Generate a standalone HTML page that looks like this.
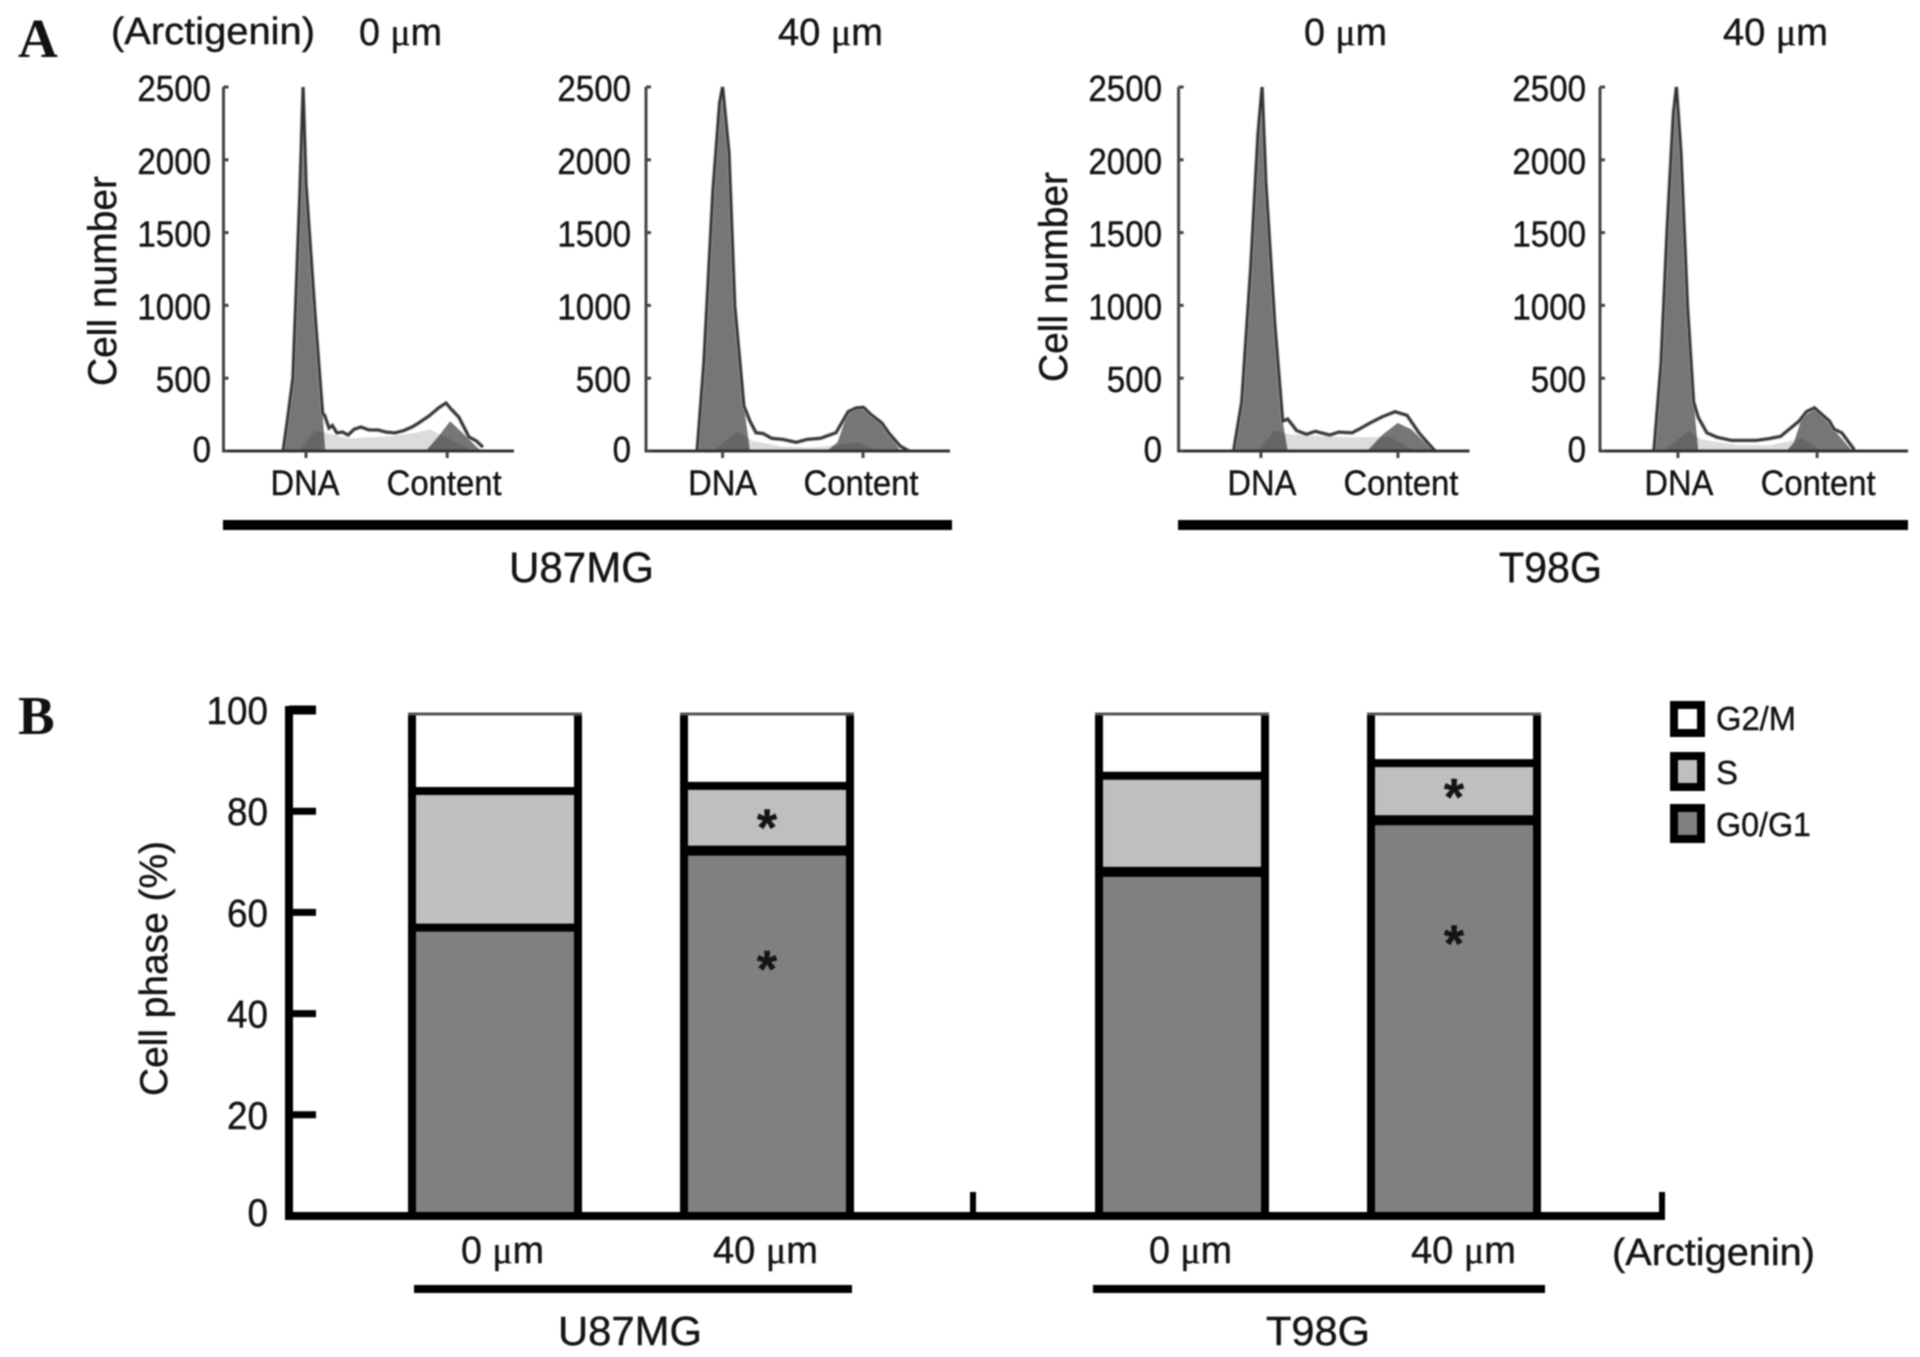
<!DOCTYPE html>
<html lang="en">
<head>
<meta charset="utf-8">
<title>Arctigenin cell cycle figure</title>
<style>
html,body{margin:0;padding:0;background:#fff;width:1920px;height:1357px;overflow:hidden}
svg{display:block;filter:blur(0.7px)}
text{font-family:"Liberation Sans",sans-serif;fill:#141414;stroke:#141414;stroke-width:.4px}
.serif{font-family:"Liberation Serif",serif}
.panel-letter{font-family:"Liberation Serif",serif;font-weight:bold;font-size:55px;fill:#111;stroke:none}
</style>
</head>
<body>
<svg id="figure" xmlns="http://www.w3.org/2000/svg" width="1920" height="1357" viewBox="0 0 1920 1357">
  <rect x="0" y="0" width="1920" height="1357" fill="#fff"/>
  <text class="panel-letter" x="18" y="57">A</text>
  <text class="panel-letter" x="18" y="734">B</text>

  <text x="111" y="44" font-size="38" textLength="204" lengthAdjust="spacingAndGlyphs">(Arctigenin)</text>
  <text x="359" y="45" font-size="38" textLength="83" lengthAdjust="spacingAndGlyphs">0 <tspan class="serif">μ</tspan>m</text>
  <text x="778" y="45" font-size="38" textLength="105" lengthAdjust="spacingAndGlyphs">40 <tspan class="serif">μ</tspan>m</text>
  <text x="1304" y="45" font-size="38" textLength="83" lengthAdjust="spacingAndGlyphs">0 <tspan class="serif">μ</tspan>m</text>
  <text x="1723" y="45" font-size="38" textLength="105" lengthAdjust="spacingAndGlyphs">40 <tspan class="serif">μ</tspan>m</text>

  <text transform="translate(116 386) rotate(-90)" font-size="40" textLength="210" lengthAdjust="spacingAndGlyphs">Cell number</text>
  <text transform="translate(1067 382) rotate(-90)" font-size="40" textLength="210" lengthAdjust="spacingAndGlyphs">Cell number</text>

  <rect x="223" y="520" width="729" height="10" fill="#000"/>
  <rect x="1178" y="520" width="730" height="10" fill="#000"/>
  <text x="509" y="582" font-size="43" textLength="145" lengthAdjust="spacingAndGlyphs">U87MG</text>
  <text x="1499" y="582" font-size="43" textLength="103" lengthAdjust="spacingAndGlyphs">T98G</text>

  <g id="histograms"></g>

  <text transform="translate(167 1096) rotate(-90)" font-size="39" textLength="255" lengthAdjust="spacingAndGlyphs">Cell phase (%)</text>
  <g id="bars"></g>

  <text x="461" y="1263" font-size="38" textLength="83" lengthAdjust="spacingAndGlyphs">0 <tspan class="serif">μ</tspan>m</text>
  <text x="713" y="1263" font-size="38" textLength="105" lengthAdjust="spacingAndGlyphs">40 <tspan class="serif">μ</tspan>m</text>
  <text x="1149" y="1263" font-size="38" textLength="83" lengthAdjust="spacingAndGlyphs">0 <tspan class="serif">μ</tspan>m</text>
  <text x="1411" y="1263" font-size="38" textLength="105" lengthAdjust="spacingAndGlyphs">40 <tspan class="serif">μ</tspan>m</text>
  <text x="1612" y="1265" font-size="38" textLength="203" lengthAdjust="spacingAndGlyphs">(Arctigenin)</text>
  <rect x="414" y="1285" width="438" height="8" fill="#000"/>
  <rect x="1093" y="1285" width="452" height="8" fill="#000"/>
  <text x="558" y="1345" font-size="41" textLength="144" lengthAdjust="spacingAndGlyphs">U87MG</text>
  <text x="1266" y="1345" font-size="41" textLength="104" lengthAdjust="spacingAndGlyphs">T98G</text>

  <g>
    <rect x="1674" y="705" width="27" height="28" fill="#fff" stroke="#000" stroke-width="8"/>
    <text x="1716" y="730" font-size="33" textLength="80" lengthAdjust="spacingAndGlyphs">G2/M</text>
    <rect x="1674" y="756" width="27" height="31" fill="#bfbfbf" stroke="#000" stroke-width="8"/>
    <text x="1716" y="784" font-size="33" textLength="22" lengthAdjust="spacingAndGlyphs">S</text>
    <rect x="1674" y="808" width="27" height="31" fill="#808080" stroke="#000" stroke-width="8"/>
    <text x="1716" y="836" font-size="33" textLength="95" lengthAdjust="spacingAndGlyphs">G0/G1</text>
  </g>
</svg>

<script>
// ---- Panel A: cell-number tick labels ----
const histTicks = [0, 500, 1000, 1500, 2000, 2500];
const histTickLabels = ["0", "500", "1000", "1500", "2000", "2500"];
const histXLabels = ["DNA", "Content"];

// ---- U87MG 0 um ----
const p1Peaks = [28.4, 77];
const p1G1Ch = [20.5, 22, 23.9, 26.3, 27.4, 28.4, 31.6, 34.1, 35];
const p1G1Ct = [0, 210, 500, 1784, 2500, 1836, 915, 258, 0];
const p1G2Ch = [69.6, 74, 78, 82, 85.5, 88.7];
const p1G2Ct = [0, 100, 205, 130, 60, 0];
const p1SCh = [26, 31.5, 36, 43, 50, 58, 66, 71, 75, 82, 86];
const p1SCt = [0, 140, 120, 85, 95, 100, 125, 150, 110, 40, 0];
const p1TotalCh = [20.5, 22, 23.9, 26.3, 27.4, 28.4, 31.6, 34.1, 34.8, 36.3, 37.5, 39, 41, 42.9, 45, 47.3, 50, 53.2, 56, 59, 62, 64.9, 67, 70.7, 74, 76.6, 78.5, 81, 84.5, 87, 89.3];
const p1TotalCt = [0, 210, 500, 1784, 2500, 1836, 915, 258, 245, 158, 175, 125, 130, 110, 150, 165, 145, 144, 130, 124, 140, 165, 190, 240, 295, 330, 285, 233, 96, 70, 27];

// ---- U87MG 40 um ----
const p2Peaks = [25.2, 71.4];
const p2G1Ch = [16.8, 19, 22, 24.2, 25.2, 27.3, 29.2, 32.2, 34.2];
const p2G1Ct = [0, 600, 1784, 2390, 2500, 2050, 995, 310, 0];
const p2G2Ch = [59.5, 63, 66.5, 71.5, 74, 77.6, 83.6];
const p2G2Ct = [0, 60, 270, 297, 250, 180, 5];
const p2SCh = [22, 30, 35, 45, 55, 62, 70, 76];
const p2SCt = [0, 135, 70, 30, 25, 40, 60, 0];
const p2TotalCh = [16.8, 19, 22, 24.2, 25.2, 27.3, 29.2, 32.2, 34.2, 36.2, 38.5, 41.3, 45, 49.4, 53, 57.4, 62.5, 66.5, 69, 71.5, 74, 77.6, 80, 83.6, 86.5];
const p2TotalCt = [0, 600, 1784, 2390, 2500, 2050, 995, 310, 205, 126, 120, 87, 80, 60, 80, 87, 126, 270, 295, 300, 250, 192, 120, 34, 0];

// ---- T98G 0 um ----
const p3Peaks = [28.3, 75.4];
const p3G1Ch = [18.9, 21.7, 24.8, 27.3, 28.7, 30, 33.1, 35.8, 37.5];
const p3G1Ct = [0, 337, 1258, 2180, 2500, 1840, 863, 205, 0];
const p3G2Ch = [64.8, 70, 75.3, 80, 84, 88];
const p3G2Ct = [0, 110, 192, 150, 70, 5];
const p3SCh = [27, 33, 38, 50, 60, 66, 72, 77, 81];
const p3SCt = [0, 140, 115, 100, 95, 95, 100, 50, 0];
const p3TotalCh = [18.9, 21.7, 24.8, 27.3, 28.7, 30, 33.1, 35.8, 37.5, 40.6, 44, 47, 49, 52, 55, 59.6, 62, 65.8, 70, 74.4, 78.5, 82.6, 85, 88];
const p3TotalCt = [0, 337, 1258, 2180, 2500, 1840, 863, 205, 220, 140, 115, 135, 125, 110, 130, 125, 150, 192, 235, 270, 245, 125, 70, 5];

// ---- T98G 40 um ----
const p4Peaks = [25.3, 70.5];
const p4G1Ch = [17.5, 19.8, 21.8, 23.8, 24.8, 26.3, 28.4, 30.4, 31.9];
const p4G1Ct = [0, 600, 1520, 2310, 2500, 2050, 995, 337, 0];
const p4G2Ch = [60.6, 63, 65.6, 69.6, 72, 74.5, 77, 81.6];
const p4G2Ct = [0, 60, 230, 285, 240, 180, 120, 8];
const p4SCh = [20.6, 28.8, 32.8, 45, 55, 65.6, 72.4];
const p4SCt = [0, 140, 80, 40, 40, 85, 0];
const p4TotalCh = [17.5, 19.8, 21.8, 23.8, 24.8, 26.3, 28.4, 30.4, 31.9, 34.7, 38, 42.7, 50.7, 55, 58.6, 64.6, 67, 69.6, 74.5, 76, 78.5, 82.6];
const p4TotalCt = [0, 600, 1520, 2310, 2500, 2050, 995, 337, 230, 125, 95, 73, 73, 85, 100, 205, 270, 297, 205, 150, 125, 8];

// ---- Panel B ----
const barTicks = [0, 20, 40, 60, 80, 100];
const barTickLabels = ["0", "20", "40", "60", "80", "100"];
const barCategories = ["U87MG 0 um", "U87MG 40 um", "T98G 0 um", "T98G 40 um"];
const g0g1Values = [57, 72.2, 68, 78.2];
const sValues = [27, 12.8, 19, 11.3];
const g2mValues = [16, 15, 13, 10.5];
const starBars = [1, 1, 3, 3];
const starLevels = [78, 50, 84, 55];

const NS = "http://www.w3.org/2000/svg";
function mk(parent, tag) {
  const el = document.createElementNS(NS, tag);
  parent.appendChild(el);
  return el;
}

// Layout (not data)
const histFrames = [
  {x0: 223.5, x1: 514, labelRight: 211, dnaShift: -1, contentShift: -3, key: "u87mg-0",
   peaks: p1Peaks, g1: [p1G1Ch, p1G1Ct], g2: [p1G2Ch, p1G2Ct], s: [p1SCh, p1SCt], total: [p1TotalCh, p1TotalCt]},
  {x0: 646, x1: 950, labelRight: 631, dnaShift: 0, contentShift: -2, key: "u87mg-40",
   peaks: p2Peaks, g1: [p2G1Ch, p2G1Ct], g2: [p2G2Ch, p2G2Ct], s: [p2SCh, p2SCt], total: [p2TotalCh, p2TotalCt]},
  {x0: 1178.6, x1: 1469.5, labelRight: 1162, dnaShift: 1, contentShift: 3, key: "t98g-0",
   peaks: p3Peaks, g1: [p3G1Ch, p3G1Ct], g2: [p3G2Ch, p3G2Ct], s: [p3SCh, p3SCt], total: [p3TotalCh, p3TotalCt]},
  {x0: 1600, x1: 1908, labelRight: 1586, dnaShift: 1, contentShift: 1, key: "t98g-40",
   peaks: p4Peaks, g1: [p4G1Ch, p4G1Ct], g2: [p4G2Ch, p4G2Ct], s: [p4SCh, p4SCt], total: [p4TotalCh, p4TotalCt]}
];
const histTop = 87, histBase = 451, histMax = 2500;

function histY(count) { return histBase - count / histMax * (histBase - histTop); }
function histX(frame, channel) { return frame.x0 + channel / 100 * (frame.x1 - frame.x0); }
function linePath(frame, series) {
  return series[0].map((c, i) => (i ? "L" : "M") + histX(frame, c).toFixed(1) + " " + histY(series[1][i]).toFixed(1)).join(" ");
}

const histRoot = document.getElementById("histograms");
histFrames.forEach(function (f) {
  const g = mk(histRoot, "g");
  
  

  const g1 = mk(g, "path");
  g1.setAttribute("d", linePath(f, f.g1) + " Z");
  g1.setAttribute("fill", "#767676");
  
  

  const g2 = mk(g, "path");
  g2.setAttribute("d", linePath(f, f.g2) + " Z");
  g2.setAttribute("fill", "#767676");
  
  

  const s = mk(g, "path");
  s.setAttribute("d", linePath(f, f.s) + " Z");
  s.setAttribute("fill", "#dcdcdc");
  s.setAttribute("style", "mix-blend-mode:multiply");
  
  

  const halo = mk(g, "path");
  halo.setAttribute("d", linePath(f, f.total));
  halo.setAttribute("fill", "none");
  halo.setAttribute("stroke", "#9a9a9a");
  halo.setAttribute("stroke-width", "4");
  
  

  const total = mk(g, "path");
  total.setAttribute("d", linePath(f, f.total));
  total.setAttribute("fill", "none");
  total.setAttribute("stroke", "#333");
  total.setAttribute("stroke-width", "2.4");
  
  

  const yAxis = mk(g, "line");
  yAxis.setAttribute("x1", f.x0);
  yAxis.setAttribute("x2", f.x0);
  yAxis.setAttribute("y1", histTop);
  yAxis.setAttribute("y2", histBase + 1);
  yAxis.setAttribute("stroke", "#444");
  yAxis.setAttribute("stroke-width", "3");
  
  

  const xAxis = mk(g, "line");
  xAxis.setAttribute("x1", f.x0 - 1);
  xAxis.setAttribute("x2", f.x1);
  xAxis.setAttribute("y1", histBase);
  xAxis.setAttribute("y2", histBase);
  xAxis.setAttribute("stroke", "#333");
  xAxis.setAttribute("stroke-width", "3");
  
  

  histTicks.forEach(function (t, i) {
    const tick = mk(g, "line");
    tick.setAttribute("x1", f.x0);
    tick.setAttribute("x2", f.x0 + 5);
    tick.setAttribute("y1", histY(t));
    tick.setAttribute("y2", histY(t));
    tick.setAttribute("stroke", "#444");
    tick.setAttribute("stroke-width", "3");
    
    

    const label = mk(g, "text");
    label.textContent = histTickLabels[i];
    label.setAttribute("x", f.labelRight);
    label.setAttribute("y", histY(t) + (t === 0 ? 11 : 14));
    label.setAttribute("font-size", "36");
    label.setAttribute("text-anchor", "end");
    label.setAttribute("textLength", histTickLabels[i].length * 18.4);
    label.setAttribute("lengthAdjust", "spacingAndGlyphs");
    
    
  });

  f.peaks.forEach(function (c, i) {
    const tick = mk(g, "line");
    tick.setAttribute("x1", histX(f, c));
    tick.setAttribute("x2", histX(f, c));
    tick.setAttribute("y1", histBase);
    tick.setAttribute("y2", histBase + 7);
    tick.setAttribute("stroke", "#444");
    tick.setAttribute("stroke-width", "3");
    
    

    const label = mk(g, "text");
    label.textContent = histXLabels[i];
    label.setAttribute("x", histX(f, c) + (i ? f.contentShift : f.dnaShift));
    label.setAttribute("y", 495);
    label.setAttribute("font-size", "35");
    label.setAttribute("text-anchor", "middle");
    label.setAttribute("textLength", i ? 115 : 69);
    label.setAttribute("lengthAdjust", "spacingAndGlyphs");
    
    
  });
});

// ---- Bar chart axis functions ----
const barRoot = document.getElementById("bars");
function barY(v) { return 1216 - v * 5.06; }
function barCenter(i) {
  const group = Math.floor(i / 2), dose = i % 2;
  return 495 + group * 687 + dose * 272;
}
const halfBar = 83;
const topInset = 4;

barCategories.forEach(function (name, i) {
  const g = mk(barRoot, "g");
  
  
  const cx = barCenter(i);
  const b1 = g0g1Values[i];
  const b2 = b1 + sValues[i];
  const b3 = b2 + g2mValues[i];
  const topY = barY(b3) + topInset;

  const r1 = mk(g, "rect");
  r1.setAttribute("x", cx - halfBar);
  r1.setAttribute("width", halfBar * 2);
  r1.setAttribute("y", barY(b1));
  r1.setAttribute("height", barY(0) - barY(b1));
  r1.setAttribute("fill", "#808080");
  
  

  const r2 = mk(g, "rect");
  r2.setAttribute("x", cx - halfBar);
  r2.setAttribute("width", halfBar * 2);
  r2.setAttribute("y", barY(b2));
  r2.setAttribute("height", barY(b1) - barY(b2));
  r2.setAttribute("fill", "#bfbfbf");
  
  

  const r3 = mk(g, "rect");
  r3.setAttribute("x", cx - halfBar);
  r3.setAttribute("width", halfBar * 2);
  r3.setAttribute("y", topY);
  r3.setAttribute("height", barY(b2) - topY);
  r3.setAttribute("fill", "#fff");
  
  

  [-1, 1].forEach(function (side) {
    const edge = mk(g, "line");
    edge.setAttribute("x1", cx + side * halfBar);
    edge.setAttribute("x2", cx + side * halfBar);
    edge.setAttribute("y1", topY - 1);
    edge.setAttribute("y2", barY(0));
    edge.setAttribute("stroke", "#000");
    edge.setAttribute("stroke-width", "8");
    
    
  });

  [b1, b2].forEach(function (level, k) {
    const div = mk(g, "line");
    div.setAttribute("x1", cx - halfBar);
    div.setAttribute("x2", cx + halfBar);
    div.setAttribute("y1", barY(level));
    div.setAttribute("y2", barY(level));
    div.setAttribute("stroke", "#000");
    div.setAttribute("stroke-width", k === 0 && i > 0 ? "10" : "8");
    
    
  });

  const top = mk(g, "line");
  top.setAttribute("x1", cx - halfBar - 4);
  top.setAttribute("x2", cx + halfBar + 4);
  top.setAttribute("y1", topY);
  top.setAttribute("y2", topY);
  top.setAttribute("stroke", "#555");
  top.setAttribute("stroke-width", "3");
  
  
});

starBars.forEach(function (barIndex, i) {
  const star = mk(barRoot, "text");
  star.textContent = "*";
  star.setAttribute("x", barCenter(barIndex));
  star.setAttribute("y", barY(starLevels[i]) + 24);
  star.setAttribute("font-size", "52");
  star.setAttribute("font-weight", "bold");
  star.setAttribute("text-anchor", "middle");
  star.setAttribute("fill", "#000");
  
  
});

const barYAxis = mk(barRoot, "line");
barYAxis.setAttribute("x1", 289);
barYAxis.setAttribute("x2", 289);
barYAxis.setAttribute("y1", barY(100) - 4);
barYAxis.setAttribute("y2", barY(0) + 4);
barYAxis.setAttribute("stroke", "#000");
barYAxis.setAttribute("stroke-width", "8");



const barXAxis = mk(barRoot, "line");
barXAxis.setAttribute("x1", 286);
barXAxis.setAttribute("x2", 1665);
barXAxis.setAttribute("y1", barY(0));
barXAxis.setAttribute("y2", barY(0));
barXAxis.setAttribute("stroke", "#000");
barXAxis.setAttribute("stroke-width", "8");



barTicks.forEach(function (t, i) {
  if (t > 0) {
    const tick = mk(barRoot, "line");
    tick.setAttribute("x1", 289);
    tick.setAttribute("x2", 316);
    tick.setAttribute("y1", barY(t));
    tick.setAttribute("y2", barY(t));
    tick.setAttribute("stroke", "#000");
    tick.setAttribute("stroke-width", t === 100 ? "9" : "7");
    
    
  }
  const label = mk(barRoot, "text");
  label.textContent = barTickLabels[i];
  label.setAttribute("x", 268);
  label.setAttribute("y", barY(t) + (t === 0 ? 10 : 14));
  label.setAttribute("font-size", "39");
  label.setAttribute("text-anchor", "end");
  label.setAttribute("textLength", barTickLabels[i].length * 20.5);
  label.setAttribute("lengthAdjust", "spacingAndGlyphs");
  
  
});

[973, 1662].forEach(function (x) {
  const tick = mk(barRoot, "line");
  tick.setAttribute("x1", x);
  tick.setAttribute("x2", x);
  tick.setAttribute("y1", 1192);
  tick.setAttribute("y2", barY(0));
  tick.setAttribute("stroke", "#000");
  tick.setAttribute("stroke-width", "6");
  
  
});
</script>
</body>
</html>
